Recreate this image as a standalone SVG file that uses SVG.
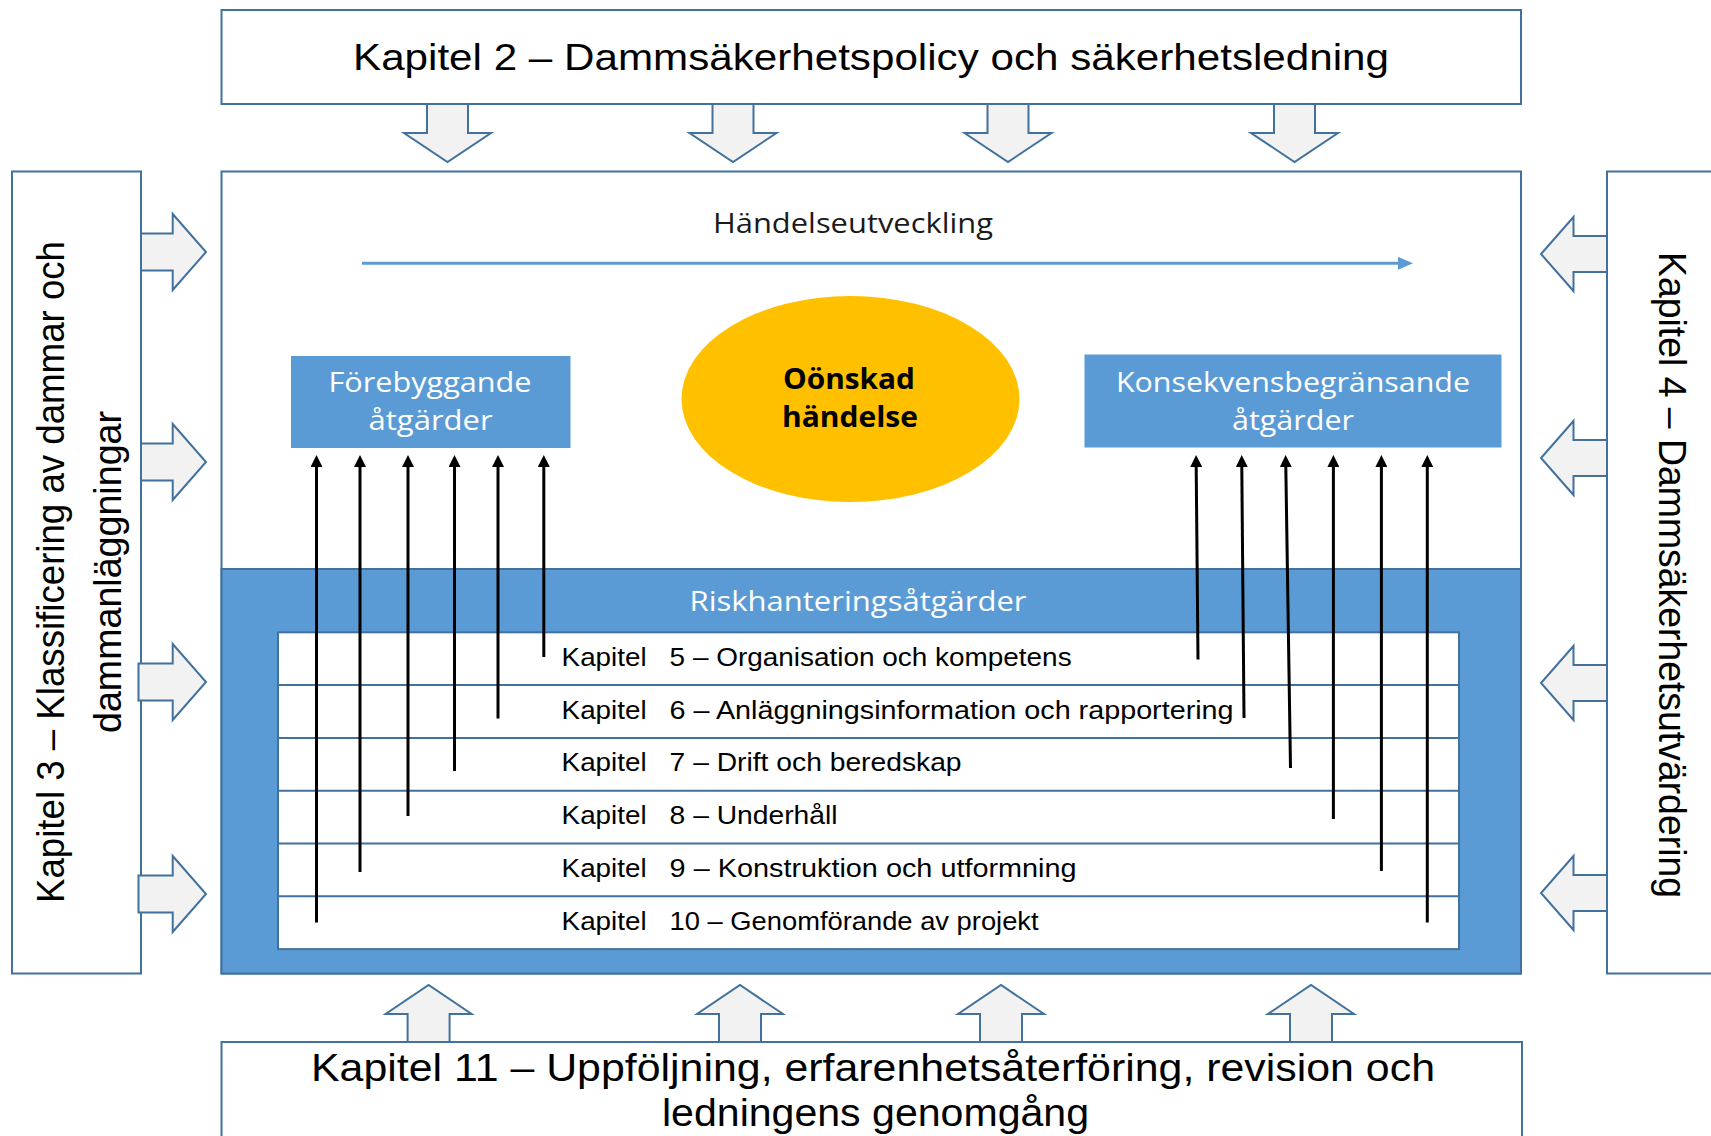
<svg xmlns="http://www.w3.org/2000/svg" width="1711" height="1136" viewBox="0 0 1711 1136">
<defs>
<style>
.frame{fill:#FFFFFF;stroke:#41719C;stroke-width:2}
.blk{fill:#F2F2F2;stroke:#41719C;stroke-width:2;stroke-linejoin:miter}
.blue{fill:#5B9BD5}
.cal{font-family:"Liberation Sans",Arial,sans-serif;fill:#000}
.seg{font-family:"Open Sans","Noto Sans",sans-serif}
.wt{fill:#FFFFFF}
.row{font-family:"Liberation Sans",Arial,sans-serif;font-size:25px;fill:#000}
.rline{stroke:#41719C;stroke-width:2}
.conn{stroke:#000;stroke-width:3;fill:none}
</style>
<marker id="ah" viewBox="0 0 12 12" refX="0" refY="6" markerWidth="12" markerHeight="12" markerUnits="userSpaceOnUse" orient="auto">
<path d="M0,0 L12,6 L0,12 z" fill="#000"/>
</marker>
<marker id="ahb" viewBox="0 0 15 13" refX="0" refY="6.5" markerWidth="15" markerHeight="13" markerUnits="userSpaceOnUse" orient="auto">
<path d="M0,0 L15,6.5 L0,13 z" fill="#5B9BD5"/>
</marker>
</defs>
<rect width="1711" height="1136" fill="#FFFFFF"/>

<g id="ch2">
<rect class="frame" x="221.5" y="10" width="1299.5" height="94"/>
<text class="cal" x="871" y="70" font-size="37" text-anchor="middle" textLength="1036" lengthAdjust="spacingAndGlyphs">Kapitel 2 – Dammsäkerhetspolicy och säkerhetsledning</text>
</g>

<g id="ch3">
<rect class="frame" x="12" y="171.5" width="129" height="802"/>
<text class="cal" transform="translate(64,572) rotate(-90)" x="0" y="0" font-size="38" text-anchor="middle" textLength="662" lengthAdjust="spacingAndGlyphs">Kapitel 3 – Klassificering av dammar och</text>
<text class="cal" transform="translate(121,572) rotate(-90)" x="0" y="0" font-size="38" text-anchor="middle" textLength="322" lengthAdjust="spacingAndGlyphs">dammanläggningar</text>
</g>

<g id="ch4">
<rect class="frame" x="1607" y="171.5" width="110" height="802"/>
<text class="cal" transform="translate(1659,575) rotate(90)" x="0" y="0" font-size="38" text-anchor="middle" textLength="646" lengthAdjust="spacingAndGlyphs">Kapitel 4 – Dammsäkerhetsutvärdering</text>
</g>

<g id="ch11">
<rect class="frame" x="221.5" y="1042" width="1300.5" height="110"/>
<text class="cal" x="873" y="1081" font-size="38" text-anchor="middle" textLength="1124" lengthAdjust="spacingAndGlyphs">Kapitel 11 – Uppföljning, erfarenhetsåterföring, revision och</text>
<text class="cal" x="875.5" y="1126" font-size="38" text-anchor="middle" textLength="427" lengthAdjust="spacingAndGlyphs">ledningens genomgång</text>
</g>

<g id="main">
<rect class="frame" x="221.5" y="171.5" width="1299.5" height="802"/>
<text class="seg" x="853" y="232.7" font-size="28" fill="#1A1A1A" text-anchor="middle" textLength="280" lengthAdjust="spacingAndGlyphs">Händelseutveckling</text>
</g>

<g id="riskhantering">
<rect x="221.5" y="569" width="1299.5" height="404.5" fill="#5B9BD5" stroke="#41719C" stroke-width="2"/>
<text class="seg wt" x="858" y="611" font-size="27" text-anchor="middle" textLength="337" lengthAdjust="spacingAndGlyphs">Riskhanteringsåtgärder</text>
</g>

<g id="kapitel-tabell">
<rect x="278" y="632.3" width="1181" height="316.8" fill="#FFFFFF" stroke="#41719C" stroke-width="2"/>
<line class="rline" x1="278" y1="685.1" x2="1459" y2="685.1"/>
<line class="rline" x1="278" y1="737.9" x2="1459" y2="737.9"/>
<line class="rline" x1="278" y1="790.7" x2="1459" y2="790.7"/>
<line class="rline" x1="278" y1="843.5" x2="1459" y2="843.5"/>
<line class="rline" x1="278" y1="896.3" x2="1459" y2="896.3"/>
</g>
<g id="kap5"><text class="row" x="561.6" y="665.7" textLength="85" lengthAdjust="spacingAndGlyphs">Kapitel</text><text class="row" x="669.6" y="665.7" textLength="402" lengthAdjust="spacingAndGlyphs">5 – Organisation och kompetens</text></g>
<g id="kap6"><text class="row" x="561.6" y="718.5" textLength="85" lengthAdjust="spacingAndGlyphs">Kapitel</text><text class="row" x="669.6" y="718.5" textLength="564" lengthAdjust="spacingAndGlyphs">6 – Anläggningsinformation och rapportering</text></g>
<g id="kap7"><text class="row" x="561.6" y="771.3" textLength="85" lengthAdjust="spacingAndGlyphs">Kapitel</text><text class="row" x="669.6" y="771.3" textLength="292" lengthAdjust="spacingAndGlyphs">7 – Drift och beredskap</text></g>
<g id="kap8"><text class="row" x="561.6" y="824.1" textLength="85" lengthAdjust="spacingAndGlyphs">Kapitel</text><text class="row" x="669.6" y="824.1" textLength="168" lengthAdjust="spacingAndGlyphs">8 – Underhåll</text></g>
<g id="kap9"><text class="row" x="561.6" y="876.9" textLength="85" lengthAdjust="spacingAndGlyphs">Kapitel</text><text class="row" x="669.6" y="876.9" textLength="407" lengthAdjust="spacingAndGlyphs">9 – Konstruktion och utformning</text></g>
<g id="kap10"><text class="row" x="561.6" y="929.7" textLength="85" lengthAdjust="spacingAndGlyphs">Kapitel</text><text class="row" x="669.6" y="929.7" textLength="369" lengthAdjust="spacingAndGlyphs">10 – Genomförande av projekt</text></g>

<g id="forebyggande">
<rect class="blue" x="291" y="356" width="279.5" height="92"/>
<text class="seg wt" x="430" y="392.3" font-size="28" text-anchor="middle" textLength="203" lengthAdjust="spacingAndGlyphs">Förebyggande</text>
<text class="seg wt" x="430.6" y="430" font-size="28" text-anchor="middle" textLength="124" lengthAdjust="spacingAndGlyphs">åtgärder</text>
</g>

<g id="onskad-handelse">
<ellipse cx="850.5" cy="399" rx="169" ry="103" fill="#FFC000"/>
<text class="seg" x="849" y="389.3" font-size="29" font-weight="bold" fill="#000" text-anchor="middle" textLength="132" lengthAdjust="spacingAndGlyphs">Oönskad</text>
<text class="seg" x="850" y="426.7" font-size="29" font-weight="bold" fill="#000" text-anchor="middle" textLength="136" lengthAdjust="spacingAndGlyphs">händelse</text>
</g>

<g id="konsekvensbegransande">
<rect class="blue" x="1084.5" y="354.5" width="417" height="93"/>
<text class="seg wt" x="1293" y="392.3" font-size="28" text-anchor="middle" textLength="354" lengthAdjust="spacingAndGlyphs">Konsekvensbegränsande</text>
<text class="seg wt" x="1293" y="430" font-size="28" text-anchor="middle" textLength="122" lengthAdjust="spacingAndGlyphs">åtgärder</text>
</g>

<g id="connectors">
<polygon class="blk" points="427,104 468,104 468,133 491,133 447.5,162 404,133 427,133"/>
<polygon class="blk" points="712.5,104 753.5,104 753.5,133 776.5,133 733,162 689.5,133 712.5,133"/>
<polygon class="blk" points="987.5,104 1028.5,104 1028.5,133 1051.5,133 1008,162 964.5,133 987.5,133"/>
<polygon class="blk" points="1274,104 1315,104 1315,133 1338,133 1294.5,162 1251,133 1274,133"/>
<polygon class="blk" points="407.6,1042 407.6,1014 385.6,1014 428.6,985 471.6,1014 449.6,1014 449.6,1042"/>
<polygon class="blk" points="719,1042 719,1014 697,1014 740,985 783,1014 761,1014 761,1042"/>
<polygon class="blk" points="980,1042 980,1014 958,1014 1001,985 1044,1014 1022,1014 1022,1042"/>
<polygon class="blk" points="1290,1042 1290,1014 1268,1014 1311,985 1354,1014 1332,1014 1332,1042"/>
<polygon class="blk" points="141,233.5 172.7,233.5 172.7,214 206,252 172.7,290 172.7,270.5 141,270.5"/>
<polygon class="blk" points="141,443.5 172.7,443.5 172.7,424 206,462 172.7,500 172.7,480.5 141,480.5"/>
<polygon class="blk" points="138.5,663.5 172.7,663.5 172.7,644 206,682 172.7,720 172.7,700.5 138.5,700.5"/>
<polygon class="blk" points="138.5,875.5 172.7,875.5 172.7,856 206,894 172.7,932 172.7,912.5 138.5,912.5"/>
<polygon class="blk" points="1607,236 1573.5,236 1573.5,217 1541,254 1573.5,291 1573.5,272 1607,272"/>
<polygon class="blk" points="1607,440 1573.5,440 1573.5,421 1541,458 1573.5,495 1573.5,476 1607,476"/>
<polygon class="blk" points="1607,665 1573.5,665 1573.5,646 1541,683 1573.5,720 1573.5,701 1607,701"/>
<polygon class="blk" points="1607,875 1573.5,875 1573.5,856 1541,893 1573.5,930 1573.5,911 1607,911"/>
<line x1="362" y1="263.3" x2="1398" y2="263.3" stroke="#5B9BD5" stroke-width="3" marker-end="url(#ahb)"/>
<line class="conn" x1="316.5" y1="922.5" x2="316.5" y2="467" marker-end="url(#ah)"/>
<line class="conn" x1="360" y1="872" x2="360" y2="467" marker-end="url(#ah)"/>
<line class="conn" x1="408" y1="816" x2="408" y2="467" marker-end="url(#ah)"/>
<line class="conn" x1="454.5" y1="771" x2="454.5" y2="467" marker-end="url(#ah)"/>
<line class="conn" x1="498" y1="718.5" x2="498" y2="467" marker-end="url(#ah)"/>
<line class="conn" x1="543.8" y1="657" x2="543.8" y2="467" marker-end="url(#ah)"/>
<line class="conn" x1="1198" y1="659.5" x2="1196.2" y2="467" marker-end="url(#ah)"/>
<line class="conn" x1="1244" y1="718" x2="1241.8" y2="467" marker-end="url(#ah)"/>
<line class="conn" x1="1290.5" y1="768" x2="1285.8" y2="467" marker-end="url(#ah)"/>
<line class="conn" x1="1333.4" y1="819" x2="1333.4" y2="467" marker-end="url(#ah)"/>
<line class="conn" x1="1381.4" y1="871" x2="1381.4" y2="467" marker-end="url(#ah)"/>
<line class="conn" x1="1427.3" y1="922.5" x2="1427.3" y2="467" marker-end="url(#ah)"/>
</g>
</svg>
